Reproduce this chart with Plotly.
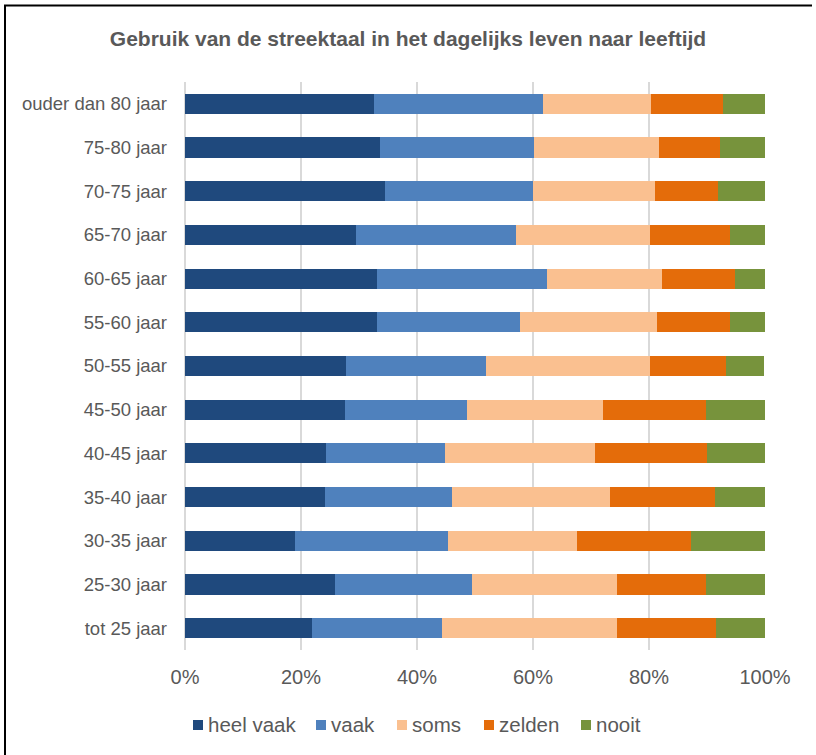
import plotly.graph_objects as go

categories = ["ouder dan 80 jaar", "75-80 jaar", "70-75 jaar", "65-70 jaar", "60-65 jaar",
              "55-60 jaar", "50-55 jaar", "45-50 jaar", "40-45 jaar", "35-40 jaar",
              "30-35 jaar", "25-30 jaar", "tot 25 jaar"]

heel_vaak = [32.6, 33.6, 34.5, 29.5, 33.1, 33.1, 27.7, 27.5, 24.3, 24.1, 19.0, 25.8, 21.9]
vaak      = [29.2, 26.6, 25.5, 27.6, 29.3, 24.7, 24.2, 21.1, 20.6, 21.9, 26.3, 23.7, 22.4]
soms      = [18.6, 21.5, 21.0, 23.0, 19.9, 23.5, 28.2, 23.5, 25.8, 27.2, 22.3, 24.9, 30.2]
zelden    = [12.4, 10.5, 10.9, 13.8, 12.6, 12.6, 13.1, 17.7, 19.3, 18.2, 19.6, 15.4, 17.0]
nooit     = [7.2, 7.8, 8.1, 6.1, 5.1, 6.1, 6.7, 10.2, 10.0, 8.6, 12.8, 10.2, 8.5]

series_names = ["heel vaak", "vaak", "soms", "zelden", "nooit"]
series_values = [heel_vaak, vaak, soms, zelden, nooit]
colors = ["#1F497D", "#4F81BD", "#FAC090", "#E46C0A", "#77933C"]

x_ticks = [0, 20, 40, 60, 80, 100]
x_ticktext = ["0%", "20%", "40%", "60%", "80%", "100%"]

W_PX, H_PX = 816, 755
L, R, T, B = 185, 765, 82, 650


def px(x):
    return (x - L) / (R - L)


def py(y):
    return (B - y) / (B - T)


fig = go.Figure()
for name, vals, col in zip(series_names, series_values, colors):
    fig.add_trace(go.Bar(
        y=categories, x=vals, name=name, orientation="h",
        marker=dict(color=col, line=dict(width=0)),
    ))

GRAY = "#595959"
FONT = "Liberation Sans, Arial, sans-serif"

fig.update_layout(
    width=W_PX, height=H_PX,
    margin=dict(l=L, r=W_PX - R, t=T, b=H_PX - B),
    barmode="stack",
    bargap=0.54,
    plot_bgcolor="white",
    paper_bgcolor="white",
    showlegend=False,
    font=dict(family=FONT, color=GRAY),
    title=dict(
        text="<b>Gebruik van de streektaal in het dagelijks leven naar leeftijd</b>",
        x=408 / W_PX, xanchor="center", xref="container",
        y=1 - 39 / H_PX, yanchor="middle", yref="container",
        font=dict(family=FONT, size=21, color=GRAY),
    ),
    xaxis=dict(
        range=[0, 100], tickvals=x_ticks, ticktext=x_ticktext,
        showgrid=True, gridcolor="#D9D9D9", gridwidth=1.5,
        zeroline=True, zerolinecolor="#D9D9D9", zerolinewidth=1.5,
        showline=False, ticks="",
        tickfont=dict(family=FONT, size=20, color=GRAY),
        ticklabelstandoff=13,
        fixedrange=True,
    ),
    yaxis=dict(
        autorange="reversed", showgrid=False, showline=False, ticks="",
        tickfont=dict(family=FONT, size=18.5, color=GRAY),
        ticklabelstandoff=17,
        fixedrange=True,
    ),
)

# custom legend
legend_sq_x = [193, 316, 397, 484, 581]
legend_y = 724
for name, col, sx in zip(series_names, colors, legend_sq_x):
    fig.add_shape(type="rect", xref="paper", yref="paper",
                  x0=px(sx), x1=px(sx + 10), y0=py(legend_y + 6), y1=py(legend_y - 4),
                  fillcolor=col, line=dict(width=0))
    fig.add_annotation(xref="paper", yref="paper", x=px(sx + 13), y=py(legend_y),
                       text=name, showarrow=False, xanchor="left", yanchor="middle",
                       font=dict(family=FONT, size=20.5, color=GRAY))

# outer frame (left and top edges visible)
fig.add_shape(type="line", xref="paper", yref="paper",
              x0=px(5), x1=px(5), y0=py(760), y1=py(5), line=dict(color="black", width=2))
fig.add_shape(type="line", xref="paper", yref="paper",
              x0=px(4), x1=px(812), y0=py(5.5), y1=py(5.5), line=dict(color="black", width=2))

fig.write_html("out.html")
